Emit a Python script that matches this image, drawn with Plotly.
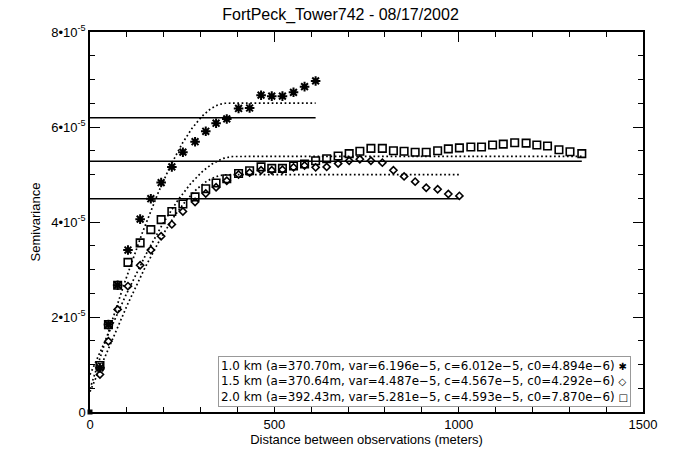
import numpy as np
import plotly.graph_objects as go

# Lag distances (meters)
lags = [27, 50, 75, 103, 136, 165, 193, 222, 252, 285, 314, 342, 371, 403, 433,
        464, 493, 522, 552, 582, 612, 642, 673, 703, 732, 762, 793, 823, 852, 882,
        912, 943, 972, 1002, 1033, 1062, 1092, 1121, 1152, 1183, 1212, 1241, 1272,
        1302, 1334]

# Semivariance values in units of 1e-5
gamma_1km = [0.93, 1.84, 2.67, 3.41, 4.06, 4.49, 4.83, 5.16, 5.47, 5.69, 5.91,
             6.08, 6.17, 6.39, 6.40, 6.67, 6.65, 6.65, 6.73, 6.85, 6.97]
gamma_15km = [0.79, 1.49, 2.16, 2.65, 3.09, 3.41, 3.70, 3.95, 4.22, 4.42, 4.60,
              4.73, 4.87, 5.00, 5.04, 5.09, 5.09, 5.10, 5.15, 5.19, 5.15, 5.16,
              5.23, 5.29, 5.32, 5.29, 5.25, 5.09, 4.96, 4.85, 4.72, 4.69, 4.59, 4.55]
gamma_2km = [0.98, 1.84, 2.67, 3.15, 3.56, 3.84, 4.05, 4.22, 4.38, 4.53, 4.70,
             4.82, 4.91, 5.02, 5.08, 5.16, 5.13, 5.13, 5.18, 5.22, 5.29, 5.33,
             5.39, 5.44, 5.49, 5.55, 5.55, 5.50, 5.49, 5.47, 5.47, 5.50, 5.54,
             5.56, 5.58, 5.58, 5.62, 5.64, 5.67, 5.66, 5.62, 5.60, 5.52, 5.48, 5.44]

# Fitted spherical model parameters (variance terms in units of 1e-5)
labels = ["1.0 km", "1.5 km", "2.0 km"]
model_a = [370.70, 370.64, 392.43]
model_var = [6.196, 4.487, 5.281]
model_c = [6.012, 4.567, 4.593]
model_c0 = [0.4894, 0.4292, 0.7870]
legend_var = ["6.196e\u22125", "4.487e\u22125", "5.281e\u22125"]
legend_c = ["6.012e\u22125", "4.567e\u22125", "4.593e\u22125"]
legend_c0 = ["4.894e\u22126", "4.292e\u22126", "7.870e\u22126"]
legend_sym = ["\u2731", "\u25C7", "\u25A1"]

series = [gamma_1km, gamma_15km, gamma_2km]
symbols = ["asterisk-open", "diamond-open", "square-open"]
sizes = [8, 5.5, 7.5]

ytickvals = [0, 2, 4, 6, 8]
yticktext = ["0", "2\u202210<sup>-5</sup>", "4\u202210<sup>-5</sup>",
             "6\u202210<sup>-5</sup>", "8\u202210<sup>-5</sup>"]

fig = go.Figure()

for i, g in enumerate(series):
    x = lags[:len(g)]
    hmax = x[-1]
    # horizontal sample variance line
    fig.add_trace(go.Scatter(x=[0, hmax], y=[model_var[i], model_var[i]], mode="lines",
                             line=dict(color="black", width=1.5), showlegend=False,
                             hoverinfo="skip"))
    # spherical model curve
    h = np.linspace(0, hmax, 300)
    r = np.minimum(h / model_a[i], 1.0)
    gm = model_c0[i] + model_c[i] * (1.5 * r - 0.5 * r ** 3)
    fig.add_trace(go.Scatter(x=h, y=gm, mode="lines",
                             line=dict(color="black", width=1.7, dash="1.7px,2.6px"),
                             showlegend=False, hoverinfo="skip"))

for i, g in enumerate(series):
    x = lags[:len(g)]
    fig.add_trace(go.Scatter(x=x, y=g, mode="markers", showlegend=False,
                             marker=dict(symbol=symbols[i], size=sizes[i], color="black",
                                         line=dict(color="black", width=2 if i == 0 else 1.6))))

# origin point
fig.add_trace(go.Scatter(x=[0], y=[0], mode="markers", showlegend=False, cliponaxis=False,
                         marker=dict(symbol="square", size=5, color="black")))

legend_lines = []
for i in range(3):
    legend_lines.append(
        f"{labels[i]} (a={model_a[i]:.2f}m, var={legend_var[i]}, c={legend_c[i]}, "
        f"c0={legend_c0[i]}) <span style='font-size:10px'>{legend_sym[i]}</span>")

fig.add_annotation(text="<br>".join(legend_lines), xref="paper", yref="paper",
                   x=0.2315, y=0.148, xanchor="left", yanchor="top", align="left",
                   showarrow=False, bordercolor="#999999", borderwidth=1, borderpad=2,
                   bgcolor="white",
                   font=dict(family="DejaVu Sans", size=11.9, color="black"))

axis_common = dict(showline=True, linecolor="black", linewidth=1.5, mirror="allticks",
                   ticks="inside", ticklen=10, tickwidth=1.2, tickcolor="black",
                   showgrid=False, zeroline=False,
                   tickfont=dict(family="Liberation Sans, Arial", size=13, color="black"))

fig.update_xaxes(range=[0, 1500], tickvals=[0, 500, 1000, 1500],
                 minor=dict(tickmode="linear", tick0=0, dtick=100, ticks="inside",
                            ticklen=5, tickcolor="black", tickwidth=1.2),
                 title=dict(text="Distance between observations (meters)", standoff=4,
                            font=dict(family="Liberation Sans, Arial", size=13, color="black")),
                 **axis_common)
fig.update_yaxes(range=[0, 8], tickvals=ytickvals, ticktext=yticktext,
                 minor=dict(tickmode="linear", tick0=0, dtick=0.5, ticks="inside",
                            ticklen=5, tickcolor="black", tickwidth=1.2),
                 title=dict(text="Semivariance", standoff=8,
                            font=dict(family="Liberation Sans, Arial", size=13, color="black")),
                 **axis_common)

fig.update_layout(
    width=681, height=457,
    margin=dict(l=90, r=38, t=32, b=38),
    paper_bgcolor="white", plot_bgcolor="white",
    title=dict(text="FortPeck_Tower742 - 08/17/2002", x=0.5, xref="container",
               y=1 - 14 / 457, yref="container", xanchor="center", yanchor="middle",
               font=dict(family="Liberation Sans, Arial", size=16, color="black")),
)

fig.write_html("out.html")
